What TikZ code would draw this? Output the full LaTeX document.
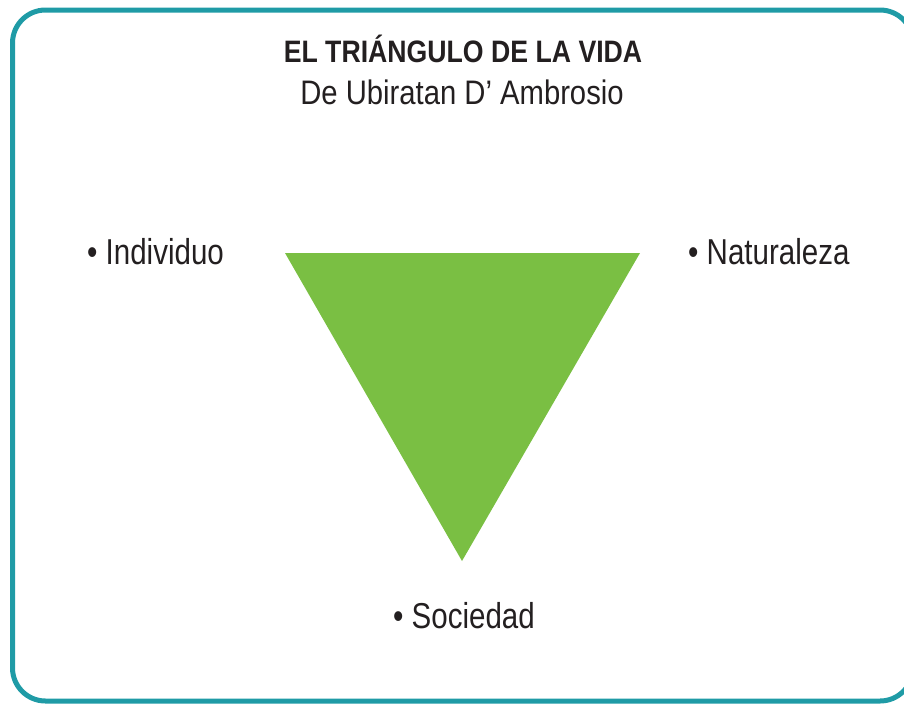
\documentclass[tikz,border=0pt]{standalone}
\usepackage{fontspec}
\setmainfont{Liberation Sans}
\newfontfamily\titlefont[FakeStretch=0.86]{Liberation Sans}
\newfontfamily\labelfont[FakeStretch=0.82]{Liberation Sans}
\definecolor{frameteal}{HTML}{1F9BA6}
\definecolor{trigreen}{HTML}{7ABF43}
\definecolor{inkdark}{HTML}{231F20}
\tikzset{
  lbl/.style={anchor=base west, inner sep=0pt, text=inkdark, font=\labelfont\fontsize{36}{40}\selectfont},
  ttl/.style={anchor=base, inner sep=0pt, text=inkdark}
}
\begin{document}
\begin{tikzpicture}[x=1pt,y=-1pt]
\useasboundingbox (0,0) rectangle (904,704);
\clip (0,0) rectangle (904,704);
\draw[frameteal, line width=5pt, rounded corners=33pt] (12.5,10) rectangle (913,701);
\node[ttl, font=\titlefont\bfseries\fontsize{31}{36}\selectfont] (title) at (463,62) {EL TRIÁNGULO DE LA VIDA};
\node[ttl, font=\titlefont\fontsize{34}{40}\selectfont] (sub) at (462,104) {De Ubiratan D’ Ambrosio};
\coordinate (tl) at (285,253);
\coordinate (tr) at (640,253);
\coordinate (tb) at (462,561);
\fill[trigreen] (tl) -- (tr) -- (tb) -- cycle;
\node[lbl] (ind) at (87,264) {• Individuo};
\node[lbl] (nat) at (688,264) {• Naturaleza};
\node[lbl] (soc) at (393,628) {• Sociedad};
\end{tikzpicture}
\end{document}
